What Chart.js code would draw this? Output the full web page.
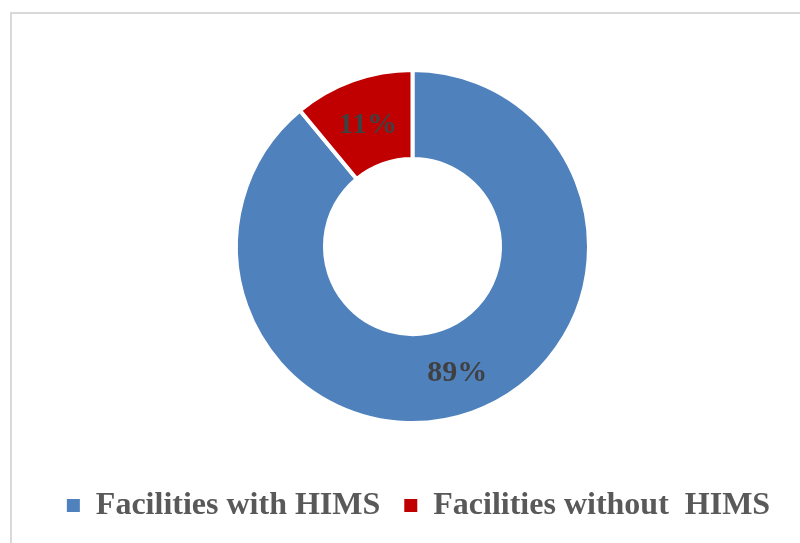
<!DOCTYPE html>
<html>
<head>
<meta charset="utf-8">
<script src="https://cdn.jsdelivr.net/npm/chart.js@4/dist/chart.umd.min.js"></script>
<style>
  html, body { margin: 0; padding: 0; background: #ffffff; }
  #wrap { position: relative; width: 800px; height: 543px; overflow: hidden; }
  #frame { position: absolute; left: 10px; top: 12px; width: 820px; height: 600px;
           border: 2px solid #d9d9d9; box-sizing: border-box; }
  #c { position: absolute; left: 0; top: 0; }
</style>
</head>
<body>
<div id="wrap">
  <div id="frame"></div>
  <canvas id="c" width="800" height="543"></canvas>
</div>
<script>
const categories = ['Facilities with HIMS', 'Facilities without  HIMS'];
const shares = [89, 11];
const sliceColors = ['#4F81BD', '#C00000'];

const sliceLabels = {
  id: 'sliceLabels',
  afterDatasetsDraw(chart) {
    const ctx = chart.ctx;
    const meta = chart.getDatasetMeta(0);
    ctx.save();
    ctx.font = 'bold 30px "Liberation Serif", "Times New Roman", serif';
    ctx.fillStyle = '#404040';
    ctx.textAlign = 'center';
    ctx.textBaseline = 'alphabetic';
    meta.data.forEach((arc, i) => {
      const p = arc.getCenterPoint();
      ctx.fillText(shares[i] + '%', p.x, p.y + 10.5);
    });
    ctx.restore();
  }
};

const legendShift = {
  id: 'legendShift',
  afterLayout(chart) {
    if (chart.legend) {
      chart.legend.left += 6;
      chart.legend.right += 6;
    }
  }
};

const baseLabels = Chart.overrides.doughnut.plugins.legend.labels.generateLabels;

new Chart(document.getElementById('c'), {
  type: 'doughnut',
  data: {
    labels: categories,
    datasets: [{
      data: shares,
      backgroundColor: sliceColors,
      borderColor: '#ffffff',
      borderWidth: 4,
      hoverOffset: 0
    }]
  },
  options: {
    responsive: false,
    animation: false,
    radius: 176.5,
    cutout: '49.6%',
    layout: { padding: { top: 27.5, bottom: 11.5, left: 25, right: 0 } },
    plugins: {
      tooltip: { enabled: false },
      legend: {
        position: 'bottom',
        labels: {
          boxWidth: 13,
          boxHeight: 13,
          padding: 24,
          color: '#595959',
          font: { family: '"Liberation Serif", "Times New Roman", serif', weight: 'bold', size: 32 },
          generateLabels(chart) {
            return baseLabels(chart).map(item => Object.assign(item, { lineWidth: 0, strokeStyle: item.fillStyle }));
          }
        }
      }
    }
  },
  plugins: [sliceLabels, legendShift]
});
</script>
</body>
</html>
